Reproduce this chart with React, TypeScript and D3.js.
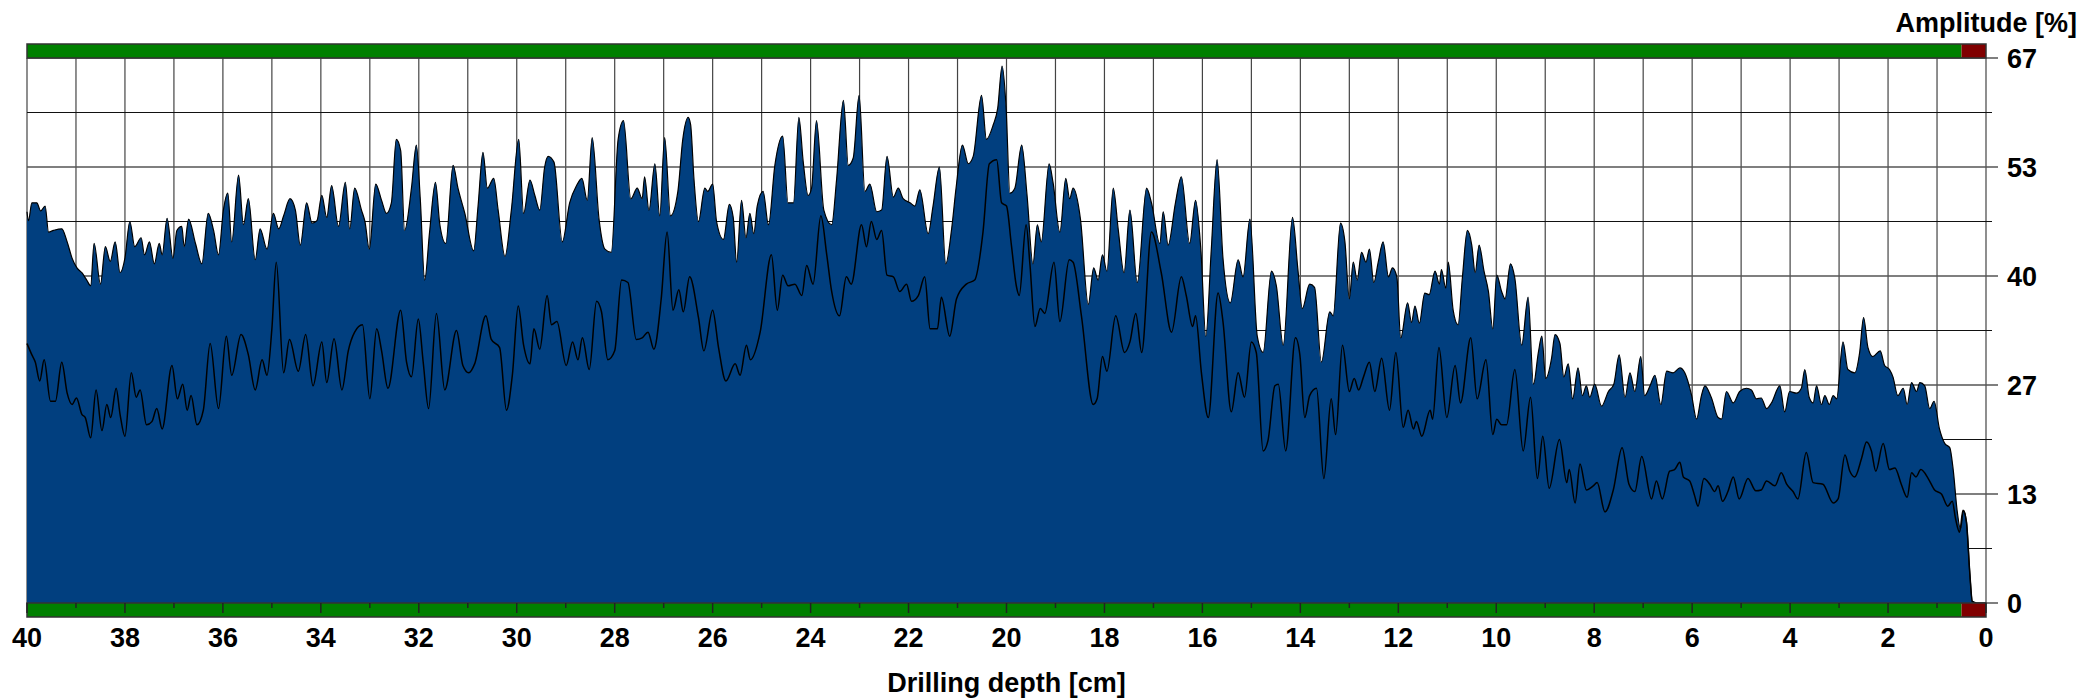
import React from "react";
import * as d3 from "d3";

const width = 2098;
const height = 700;

// upper envelope of the amplitude, [depth cm, amplitude %]
const envelope: [number, number][] = [
  [40.0, 48.1], [39.97, 47.0], [39.9, 49.2], [39.8, 49.2], [39.72, 48.2], [39.63, 48.8], [39.56, 45.6], [39.46, 45.8],
  [39.29, 46.0], [39.18, 44.4], [39.08, 42.4], [38.98, 41.2], [38.88, 40.6], [38.78, 39.7], [38.7, 39.0], [38.63, 44.2],
  [38.5, 39.2], [38.4, 43.8], [38.3, 42.0], [38.2, 44.4], [38.1, 40.6], [38.0, 42.4], [37.9, 46.9], [37.8, 43.8],
  [37.67, 44.9], [37.6, 42.8], [37.5, 44.4], [37.4, 41.7], [37.3, 44.2], [37.24, 42.8], [37.14, 47.3], [37.02, 42.4],
  [36.94, 45.8], [36.84, 46.3], [36.79, 43.8], [36.7, 47.2], [36.56, 44.2], [36.43, 41.7], [36.3, 47.9], [36.19, 45.8],
  [36.09, 42.8], [35.99, 48.3], [35.9, 50.4], [35.82, 44.4], [35.68, 52.6], [35.58, 46.5], [35.48, 49.7], [35.34, 42.2],
  [35.24, 46.0], [35.1, 43.5], [34.97, 47.9], [34.86, 46.0], [34.76, 47.6], [34.63, 49.7], [34.52, 48.3], [34.42, 44.0],
  [34.29, 49.2], [34.18, 46.7], [34.08, 47.0], [33.98, 50.1], [33.88, 47.4], [33.78, 51.3], [33.64, 46.3], [33.5, 51.7],
  [33.41, 46.0], [33.31, 51.0], [33.17, 48.3], [33.1, 46.9], [33.01, 43.5], [32.88, 51.5], [32.76, 49.5], [32.66, 47.9],
  [32.56, 49.2], [32.46, 57.0], [32.37, 55.6], [32.29, 45.8], [32.15, 51.0], [32.05, 56.3], [31.97, 49.7], [31.88, 39.7],
  [31.78, 45.6], [31.66, 51.7], [31.57, 46.5], [31.45, 44.2], [31.3, 53.8], [31.2, 51.0], [31.06, 47.9], [30.88, 43.3],
  [30.79, 48.8], [30.69, 55.4], [30.6, 51.0], [30.47, 52.2], [30.38, 48.3], [30.24, 42.6], [30.11, 48.3], [29.96, 57.0],
  [29.86, 47.9], [29.73, 52.0], [29.63, 50.1], [29.53, 48.3], [29.43, 53.6], [29.36, 54.9], [29.24, 54.2], [29.07, 44.4],
  [28.92, 49.2], [28.78, 51.3], [28.67, 52.2], [28.56, 49.5], [28.46, 57.2], [28.32, 47.2], [28.2, 43.5], [28.07, 43.1],
  [27.93, 57.0], [27.82, 59.3], [27.67, 49.7], [27.54, 51.0], [27.44, 49.7], [27.39, 52.4], [27.3, 48.3], [27.18, 54.0],
  [27.08, 47.6], [26.98, 57.2], [26.86, 47.6], [26.71, 50.6], [26.61, 57.0], [26.5, 59.7], [26.45, 58.8], [26.38, 52.0],
  [26.29, 46.9], [26.16, 51.0], [26.1, 50.6], [26.0, 51.5], [25.92, 46.9], [25.78, 44.7], [25.66, 49.0], [25.58, 47.4],
  [25.51, 41.9], [25.41, 49.5], [25.32, 44.9], [25.24, 47.9], [25.16, 45.4], [25.09, 48.8], [24.97, 50.6], [24.86, 46.5],
  [24.73, 53.8], [24.57, 57.4], [24.46, 49.2], [24.35, 49.2], [24.24, 59.7], [24.15, 54.2], [24.05, 50.1], [23.98, 51.0],
  [23.88, 59.3], [23.73, 48.3], [23.57, 46.5], [23.47, 52.0], [23.33, 61.8], [23.23, 53.8], [23.13, 54.7], [23.01, 62.4],
  [22.89, 50.6], [22.79, 51.5], [22.65, 48.1], [22.55, 48.3], [22.44, 54.9], [22.31, 49.9], [22.21, 51.0], [22.11, 49.7],
  [21.97, 49.2], [21.87, 48.8], [21.77, 50.8], [21.6, 45.4], [21.5, 48.8], [21.37, 53.6], [21.24, 41.7], [21.12, 46.0],
  [21.03, 51.0], [20.9, 56.3], [20.78, 54.0], [20.68, 54.9], [20.51, 62.4], [20.41, 57.0], [20.27, 58.8], [20.18, 60.8],
  [20.09, 66.0], [20.01, 61.1], [19.93, 50.4], [19.83, 51.0], [19.69, 56.3], [19.58, 50.1], [19.46, 41.7], [19.37, 46.5],
  [19.29, 44.4], [19.13, 54.0], [19.05, 51.7], [18.91, 45.6], [18.79, 52.2], [18.71, 49.7], [18.64, 51.0], [18.49, 47.2],
  [18.33, 36.7], [18.22, 41.2], [18.13, 39.7], [18.04, 42.8], [17.95, 40.8], [17.82, 51.0], [17.72, 46.0], [17.6, 40.6],
  [17.48, 48.3], [17.33, 39.4], [17.14, 51.0], [17.04, 49.2], [16.87, 44.2], [16.8, 48.1], [16.7, 44.0], [16.55, 49.2],
  [16.43, 52.4], [16.26, 44.2], [16.14, 49.5], [16.03, 43.3], [15.93, 32.8], [15.82, 43.3], [15.7, 54.5], [15.58, 42.4],
  [15.43, 36.9], [15.27, 42.2], [15.17, 40.1], [15.03, 47.2], [14.88, 32.8], [14.76, 30.8], [14.59, 40.8], [14.49, 39.0],
  [14.35, 31.7], [14.16, 47.4], [14.05, 41.0], [13.96, 36.2], [13.81, 39.2], [13.71, 38.8], [13.57, 29.6], [13.4, 35.8],
  [13.33, 35.3], [13.18, 46.7], [13.09, 44.4], [13.0, 37.4], [12.92, 41.9], [12.84, 39.7], [12.75, 43.1], [12.66, 41.9],
  [12.59, 43.5], [12.5, 39.4], [12.41, 41.9], [12.31, 44.4], [12.2, 40.1], [12.12, 41.2], [12.03, 40.1], [11.95, 32.6],
  [11.81, 36.9], [11.73, 34.5], [11.66, 36.5], [11.57, 34.4], [11.46, 38.1], [11.37, 37.9], [11.25, 40.8], [11.16, 39.2],
  [11.12, 41.0], [11.03, 38.7], [10.98, 41.9], [10.88, 36.0], [10.78, 34.2], [10.69, 40.1], [10.59, 45.8], [10.5, 44.0],
  [10.43, 40.6], [10.35, 44.0], [10.25, 40.8], [10.16, 38.3], [10.07, 33.7], [9.99, 40.3], [9.89, 38.3], [9.82, 37.4],
  [9.71, 41.7], [9.62, 39.9], [9.48, 31.7], [9.35, 37.6], [9.24, 26.9], [9.14, 30.8], [9.07, 32.8], [8.99, 27.6],
  [8.87, 30.1], [8.8, 33.0], [8.7, 31.9], [8.62, 27.8], [8.53, 29.4], [8.44, 25.1], [8.33, 28.9], [8.24, 25.5],
  [8.16, 26.7], [8.09, 25.3], [7.99, 26.9], [7.85, 24.2], [7.71, 26.0], [7.6, 26.9], [7.49, 30.5], [7.37, 25.3],
  [7.27, 28.3], [7.17, 26.0], [7.05, 30.3], [6.97, 25.5], [6.86, 26.7], [6.76, 28.0], [6.64, 24.4], [6.52, 28.5],
  [6.39, 28.3], [6.25, 28.9], [6.15, 28.3], [6.01, 25.5], [5.91, 22.6], [5.81, 25.5], [5.74, 26.7], [5.61, 25.3],
  [5.47, 22.8], [5.4, 22.6], [5.3, 26.0], [5.16, 24.6], [5.03, 26.0], [4.89, 26.4], [4.79, 26.2], [4.69, 25.1],
  [4.59, 25.2], [4.48, 23.9], [4.38, 24.6], [4.21, 26.7], [4.11, 23.5], [4.01, 26.0], [3.87, 25.8], [3.77, 26.4],
  [3.7, 28.7], [3.61, 25.3], [3.53, 24.6], [3.46, 26.7], [3.36, 24.4], [3.29, 25.5], [3.2, 24.4], [3.12, 25.5],
  [3.05, 25.1], [2.92, 32.1], [2.82, 28.7], [2.68, 28.3], [2.58, 30.8], [2.5, 35.1], [2.41, 31.4], [2.31, 30.3],
  [2.16, 31.0], [2.07, 29.2], [1.97, 28.7], [1.9, 27.8], [1.8, 25.5], [1.69, 26.4], [1.61, 24.4], [1.52, 27.1],
  [1.42, 26.0], [1.35, 27.1], [1.25, 26.7], [1.15, 23.9], [1.06, 24.8], [0.95, 21.4], [0.84, 19.6], [0.74, 19.1],
  [0.67, 16.4], [0.59, 11.4], [0.52, 9.1], [0.46, 11.4], [0.4, 10.0], [0.33, 3.6], [0.28, 0.2], [0.2, 0], [0, 0],
];

// inner (mean) amplitude curve
const mean: [number, number][] = [
  [40.0, 31.9], [39.9, 30.5], [39.83, 29.6], [39.74, 27.3], [39.65, 29.9], [39.52, 24.8], [39.42, 24.8], [39.29, 29.6],
  [39.18, 25.8], [39.08, 24.4], [38.99, 25.2], [38.88, 23.2], [38.81, 22.8], [38.7, 20.3], [38.59, 26.2], [38.47, 21.2],
  [38.37, 24.4], [38.29, 22.8], [38.18, 26.4], [38.1, 23.2], [38.0, 20.5], [37.87, 28.3], [37.77, 25.3], [37.69, 26.2],
  [37.56, 21.9], [37.45, 22.3], [37.35, 23.9], [37.24, 21.4], [37.04, 29.2], [36.93, 25.1], [36.82, 26.9], [36.73, 23.7],
  [36.65, 25.5], [36.53, 21.9], [36.4, 23.7], [36.26, 31.9], [36.09, 23.9], [35.93, 32.8], [35.82, 28.0], [35.63, 33.0],
  [35.48, 30.5], [35.34, 26.2], [35.2, 29.9], [35.1, 28.0], [35.0, 33.7], [34.91, 41.9], [34.76, 28.3], [34.64, 32.4],
  [34.46, 28.5], [34.31, 33.0], [34.16, 26.7], [33.98, 32.1], [33.88, 27.1], [33.73, 32.5], [33.57, 26.2], [33.44, 31.0],
  [33.31, 33.3], [33.15, 34.2], [33.0, 25.1], [32.86, 33.7], [32.76, 31.0], [32.63, 26.4], [32.37, 36.0], [32.25, 29.6],
  [32.15, 27.8], [32.01, 34.9], [31.91, 29.6], [31.8, 23.9], [31.64, 35.6], [31.47, 26.2], [31.23, 33.5], [31.1, 29.2],
  [30.98, 28.3], [30.86, 29.4], [30.63, 35.3], [30.52, 32.4], [30.35, 31.4], [30.21, 23.7], [30.09, 28.0], [29.97, 36.5],
  [29.86, 31.7], [29.73, 29.4], [29.65, 33.7], [29.53, 31.2], [29.38, 37.8], [29.29, 34.2], [29.18, 34.6], [28.99, 29.2],
  [28.86, 32.1], [28.75, 29.9], [28.66, 32.6], [28.52, 28.7], [28.37, 37.1], [28.27, 35.8], [28.14, 29.9], [28.0, 31.0],
  [27.86, 39.7], [27.73, 39.4], [27.56, 32.4], [27.44, 32.6], [27.32, 33.3], [27.2, 31.2], [27.05, 37.4], [26.93, 45.6],
  [26.81, 36.0], [26.69, 38.5], [26.6, 35.8], [26.47, 40.1], [26.29, 35.1], [26.18, 31.0], [26.0, 36.0], [25.88, 31.4],
  [25.73, 27.3], [25.54, 29.4], [25.44, 28.0], [25.31, 31.7], [25.23, 29.9], [25.03, 33.3], [24.8, 42.8], [24.68, 36.0],
  [24.57, 40.3], [24.46, 39.0], [24.32, 39.2], [24.18, 37.8], [24.08, 41.5], [23.95, 39.2], [23.79, 47.6], [23.67, 42.8],
  [23.57, 38.3], [23.41, 35.3], [23.27, 40.1], [23.17, 39.2], [22.96, 46.5], [22.86, 43.8], [22.76, 46.9], [22.65, 44.7],
  [22.55, 45.8], [22.44, 40.3], [22.31, 40.1], [22.18, 38.3], [22.04, 39.2], [21.94, 37.1], [21.8, 37.8], [21.67, 40.1],
  [21.56, 33.7], [21.41, 33.7], [21.33, 37.6], [21.16, 32.8], [21.02, 37.4], [20.82, 39.2], [20.65, 39.7], [20.48, 45.6],
  [20.35, 54.0], [20.2, 54.5], [20.1, 49.2], [20.0, 48.8], [19.9, 44.0], [19.8, 39.0], [19.74, 37.8], [19.6, 46.5],
  [19.52, 41.5], [19.42, 34.0], [19.31, 36.2], [19.22, 35.6], [19.03, 41.9], [18.91, 34.6], [18.72, 42.2], [18.64, 41.9],
  [18.47, 35.3], [18.23, 24.4], [18.15, 25.1], [18.04, 30.3], [17.95, 28.5], [17.77, 35.3], [17.59, 30.8], [17.48, 32.1],
  [17.36, 35.6], [17.24, 30.8], [17.04, 45.6], [16.84, 40.6], [16.63, 33.3], [16.43, 40.1], [16.33, 37.8], [16.2, 34.0],
  [16.14, 35.3], [16.02, 28.3], [15.88, 22.8], [15.68, 38.1], [15.58, 34.6], [15.41, 23.5], [15.27, 28.3], [15.14, 25.3],
  [15.0, 32.1], [14.9, 30.8], [14.76, 18.7], [14.66, 20.0], [14.52, 26.7], [14.45, 26.9], [14.3, 18.7], [14.1, 32.6],
  [14.01, 30.5], [13.91, 22.8], [13.81, 25.5], [13.67, 26.4], [13.52, 15.3], [13.37, 25.1], [13.28, 20.7], [13.14, 31.7],
  [13.0, 26.0], [12.9, 27.6], [12.81, 26.2], [12.71, 27.8], [12.59, 29.6], [12.48, 26.0], [12.34, 30.1], [12.18, 23.7],
  [12.05, 30.8], [11.9, 21.6], [11.8, 23.7], [11.69, 21.4], [11.63, 22.3], [11.52, 20.5], [11.35, 23.7], [11.3, 22.6],
  [11.17, 31.4], [11.01, 22.8], [10.84, 29.2], [10.73, 24.6], [10.52, 32.6], [10.39, 25.1], [10.21, 29.9], [10.07, 20.7],
  [9.99, 22.6], [9.89, 21.9], [9.79, 21.9], [9.62, 28.7], [9.45, 18.7], [9.3, 25.3], [9.16, 15.3], [9.05, 20.5],
  [8.92, 14.1], [8.71, 20.1], [8.56, 14.8], [8.51, 16.4], [8.39, 12.3], [8.29, 17.1], [8.16, 13.9], [8.02, 14.4],
  [7.94, 14.8], [7.78, 11.2], [7.61, 13.9], [7.43, 19.1], [7.29, 14.6], [7.17, 13.7], [7.03, 18.0], [6.83, 12.8],
  [6.73, 15.0], [6.61, 12.8], [6.46, 16.2], [6.36, 16.4], [6.25, 17.3], [6.18, 15.5], [6.05, 15.0], [5.95, 13.2],
  [5.88, 11.9], [5.76, 15.3], [5.64, 14.6], [5.54, 13.7], [5.47, 14.4], [5.38, 12.5], [5.27, 13.7], [5.16, 15.5],
  [5.04, 12.8], [4.86, 15.3], [4.7, 13.8], [4.59, 13.9], [4.48, 15.0], [4.31, 14.4], [4.18, 16.0], [4.07, 14.6],
  [3.94, 13.7], [3.84, 12.8], [3.67, 18.5], [3.53, 14.8], [3.33, 14.6], [3.12, 12.3], [3.02, 12.8], [2.88, 18.2],
  [2.78, 16.2], [2.68, 15.5], [2.54, 17.8], [2.44, 19.8], [2.34, 18.7], [2.25, 16.2], [2.1, 19.6], [1.97, 16.4],
  [1.86, 16.6], [1.73, 14.6], [1.61, 13.0], [1.52, 16.0], [1.43, 15.5], [1.33, 16.4], [1.18, 15.3], [1.05, 13.9],
  [0.91, 13.4], [0.78, 11.9], [0.69, 12.5], [0.62, 10.3], [0.54, 8.7], [0.47, 11.4], [0.4, 10.0], [0.33, 3.6],
  [0.28, 0.2], [0.2, 0],
];

const depthTicks = d3.range(0, 41, 1);
const depthLabels = d3.range(0, 41, 2);
const ampGrid = d3.range(0, 11).map((k) => k * 6.7);
const ampLabels = ["0", "13", "27", "40", "53", "67"];
const redZone: [number, number] = [0.5, 0];

const font = "'Liberation Sans', Arial, Helvetica, sans-serif";

const App: React.FC = () => {
  const x = d3.scaleLinear().domain([40, 0]).range([27, 1986]);
  const y = d3.scaleLinear().domain([0, 67]).range([603, 58]);

  // envelope is smooth-ish with rounded peaks
  const area = d3
    .area<[number, number]>()
    .x((d) => x(d[0]))
    .y0(y(0))
    .y1((d) => y(d[1]))
    .curve(d3.curveMonotoneX);
  const outline = d3
    .line<[number, number]>()
    .x((d) => x(d[0]))
    .y((d) => y(d[1]))
    .curve(d3.curveMonotoneX);
  const meanLine = d3
    .line<[number, number]>()
    .x((d) => x(d[0]))
    .y((d) => y(d[1]))
    .curve(d3.curveMonotoneX);

  const bar = (top: number) => (
    <g>
      <rect x={x(40)} y={top} width={x(redZone[0]) - x(40)} height={14} fill="#008000" />
      <rect x={x(redZone[0])} y={top} width={x(redZone[1]) - x(redZone[0])} height={14} fill="#800000" />
      <rect x={x(40)} y={top} width={x(0) - x(40)} height={14} fill="none" stroke="#333" strokeWidth={1.5} />
    </g>
  );

  return (
    <svg width={width} height={height} style={{ position: "absolute", left: 0, top: 0, background: "#fff" }}>
      {depthTicks.map((d) => (
        <line key={"v" + d} x1={x(d)} x2={x(d)} y1={y(67)} y2={y(0)} stroke="#444" strokeWidth={1.2} />
      ))}
      {ampGrid.map((v, i) => (
        <line
          key={"h" + i}
          x1={x(40)}
          x2={x(0) + (i % 2 === 0 ? 12 : 6)}
          y1={y(v)}
          y2={y(v)}
          stroke={i % 2 === 0 ? "#555" : "#111"}
          strokeWidth={i % 2 === 0 ? 1.6 : 1}
        />
      ))}
      <path d={area(envelope) || ""} fill="#013f7f" />
      <path d={outline(envelope) || ""} fill="none" stroke="#000" strokeWidth={1.2} />
      <path d={meanLine(mean) || ""} fill="none" stroke="#000" strokeWidth={1.5} />
      {bar(44)}
      {bar(603)}
      {depthTicks.map((d) => (
        <line key={"t" + d} x1={x(d)} x2={x(d)} y1={603} y2={d % 2 === 0 ? 613 : 608} stroke="#222" strokeWidth={1.5} />
      ))}
      {depthLabels.map((d) => (
        <text key={"xl" + d} x={x(d)} y={647} textAnchor="middle" fontFamily={font} fontWeight="bold" fontSize={27}>
          {d}
        </text>
      ))}
      {ampLabels.map((t, i) => (
        <text key={"yl" + t} x={2007} y={y(ampGrid[i * 2]) + 10} fontFamily={font} fontWeight="bold" fontSize={27}>
          {t}
        </text>
      ))}
      <text x={2077} y={32} textAnchor="end" fontFamily={font} fontWeight="bold" fontSize={27}>
        Amplitude [%]
      </text>
      <text x={(x(40) + x(0)) / 2} y={692} textAnchor="middle" fontFamily={font} fontWeight="bold" fontSize={27}>
        Drilling depth [cm]
      </text>
    </svg>
  );
};

export default App;
